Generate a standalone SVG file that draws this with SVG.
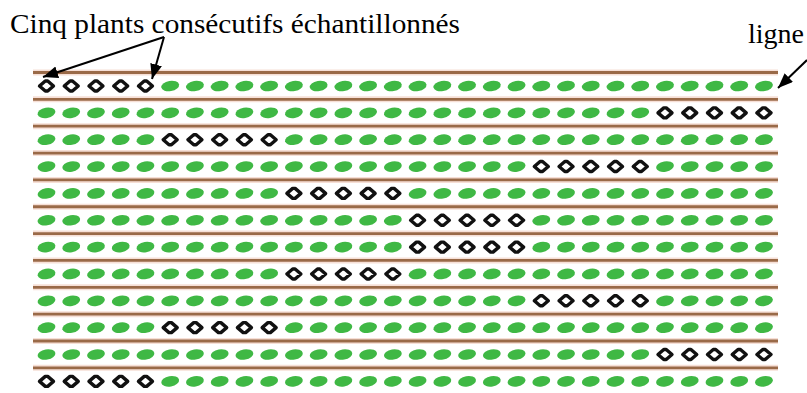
<svg xmlns="http://www.w3.org/2000/svg" xmlns:xlink="http://www.w3.org/1999/xlink" width="807" height="393" viewBox="0 0 807 393">
<style>
.lbl{font-family:"Liberation Serif","Times New Roman",serif;font-size:28px;fill:#000}
.soil-halo{stroke:#f6dfd6;stroke-width:6}
.soil{stroke:#9a6a48;stroke-width:2.8}
.leaf{fill:#3fb844}
.samp{fill:#fff;stroke:#111;stroke-width:3.4;stroke-linejoin:round}
.arr{stroke:#000;stroke-width:2;fill:none}
</style>
<defs>
<marker id="ah" markerUnits="userSpaceOnUse" markerWidth="16" markerHeight="14" refX="15" refY="6" orient="auto">
<path d="M0,0 L15,6 L0,12 z" fill="#000"/>
</marker>
<ellipse id="p" class="leaf" rx="9" ry="5.2" transform="rotate(-10)"/>
<path id="d" class="samp" d="M-7,0 L-1.2,-5 L1.2,-5 L7,0 L1.2,5 L-1.2,5 Z"/>
<g id="g5"><use href="#p" x="0"/><use href="#p" x="24.74"/><use href="#p" x="49.48"/><use href="#p" x="74.22"/><use href="#p" x="98.96"/></g>
<g id="d5"><use href="#d" x="0"/><use href="#d" x="24.74"/><use href="#d" x="49.48"/><use href="#d" x="74.22"/><use href="#d" x="98.96"/></g>
</defs>
<rect width="807" height="393" fill="#fff"/>
<g id="soil-lines">
<g class="soil-halo">
<line x1="33" y1="72.5" x2="778" y2="72.5"/><line x1="33" y1="99.35" x2="778" y2="99.35"/><line x1="33" y1="126.2" x2="778" y2="126.2"/><line x1="33" y1="153.05" x2="778" y2="153.05"/><line x1="33" y1="179.9" x2="778" y2="179.9"/><line x1="33" y1="206.75" x2="778" y2="206.75"/><line x1="33" y1="233.6" x2="778" y2="233.6"/><line x1="33" y1="260.45" x2="778" y2="260.45"/><line x1="33" y1="287.3" x2="778" y2="287.3"/><line x1="33" y1="314.15" x2="778" y2="314.15"/><line x1="33" y1="341" x2="778" y2="341"/><line x1="33" y1="367.85" x2="778" y2="367.85"/>
</g>
<g class="soil">
<line x1="33" y1="72.5" x2="778" y2="72.5"/><line x1="33" y1="99.35" x2="778" y2="99.35"/><line x1="33" y1="126.2" x2="778" y2="126.2"/><line x1="33" y1="153.05" x2="778" y2="153.05"/><line x1="33" y1="179.9" x2="778" y2="179.9"/><line x1="33" y1="206.75" x2="778" y2="206.75"/><line x1="33" y1="233.6" x2="778" y2="233.6"/><line x1="33" y1="260.45" x2="778" y2="260.45"/><line x1="33" y1="287.3" x2="778" y2="287.3"/><line x1="33" y1="314.15" x2="778" y2="314.15"/><line x1="33" y1="341" x2="778" y2="341"/><line x1="33" y1="367.85" x2="778" y2="367.85"/>
</g>
</g>
<g id="row1" transform="translate(46.5,86)"><use href="#d5" x="0"/><use href="#g5" x="123.7"/><use href="#g5" x="247.4"/><use href="#g5" x="371.1"/><use href="#g5" x="494.8"/><use href="#g5" x="618.5"/></g>
<g id="row2" transform="translate(46.5,112.85)"><use href="#g5" x="0"/><use href="#g5" x="123.7"/><use href="#g5" x="247.4"/><use href="#g5" x="371.1"/><use href="#g5" x="494.8"/><use href="#d5" x="618.5"/></g>
<g id="row3" transform="translate(46.5,139.7)"><use href="#g5" x="0"/><use href="#d5" x="123.7"/><use href="#g5" x="247.4"/><use href="#g5" x="371.1"/><use href="#g5" x="494.8"/><use href="#g5" x="618.5"/></g>
<g id="row4" transform="translate(46.5,166.55)"><use href="#g5" x="0"/><use href="#g5" x="123.7"/><use href="#g5" x="247.4"/><use href="#g5" x="371.1"/><use href="#d5" x="494.8"/><use href="#g5" x="618.5"/></g>
<g id="row5" transform="translate(46.5,193.4)"><use href="#g5" x="0"/><use href="#g5" x="123.7"/><use href="#d5" x="247.4"/><use href="#g5" x="371.1"/><use href="#g5" x="494.8"/><use href="#g5" x="618.5"/></g>
<g id="row6" transform="translate(46.5,220.25)"><use href="#g5" x="0"/><use href="#g5" x="123.7"/><use href="#g5" x="247.4"/><use href="#d5" x="371.1"/><use href="#g5" x="494.8"/><use href="#g5" x="618.5"/></g>
<g id="row7" transform="translate(46.5,247.1)"><use href="#g5" x="0"/><use href="#g5" x="123.7"/><use href="#g5" x="247.4"/><use href="#d5" x="371.1"/><use href="#g5" x="494.8"/><use href="#g5" x="618.5"/></g>
<g id="row8" transform="translate(46.5,273.95)"><use href="#g5" x="0"/><use href="#g5" x="123.7"/><use href="#d5" x="247.4"/><use href="#g5" x="371.1"/><use href="#g5" x="494.8"/><use href="#g5" x="618.5"/></g>
<g id="row9" transform="translate(46.5,300.8)"><use href="#g5" x="0"/><use href="#g5" x="123.7"/><use href="#g5" x="247.4"/><use href="#g5" x="371.1"/><use href="#d5" x="494.8"/><use href="#g5" x="618.5"/></g>
<g id="row10" transform="translate(46.5,327.65)"><use href="#g5" x="0"/><use href="#d5" x="123.7"/><use href="#g5" x="247.4"/><use href="#g5" x="371.1"/><use href="#g5" x="494.8"/><use href="#g5" x="618.5"/></g>
<g id="row11" transform="translate(46.5,354.5)"><use href="#g5" x="0"/><use href="#g5" x="123.7"/><use href="#g5" x="247.4"/><use href="#g5" x="371.1"/><use href="#g5" x="494.8"/><use href="#d5" x="618.5"/></g>
<g id="row12" transform="translate(46.5,381.35)"><use href="#d5" x="0"/><use href="#g5" x="123.7"/><use href="#g5" x="247.4"/><use href="#g5" x="371.1"/><use href="#g5" x="494.8"/><use href="#g5" x="618.5"/></g>
<g id="label-sampled"><text class="lbl" x="10" y="33" textLength="450" lengthAdjust="spacingAndGlyphs">Cinq plants consécutifs échantillonnés</text></g>
<g id="label-ligne"><text class="lbl" x="748" y="43">ligne</text></g>
<g id="connectors">
<line class="arr" x1="164" y1="37" x2="43" y2="77" marker-end="url(#ah)"/>
<line class="arr" x1="164" y1="37" x2="152" y2="79" marker-end="url(#ah)"/>
<line class="arr" x1="807" y1="60" x2="778" y2="88" marker-end="url(#ah)"/>
</g>
</svg>
